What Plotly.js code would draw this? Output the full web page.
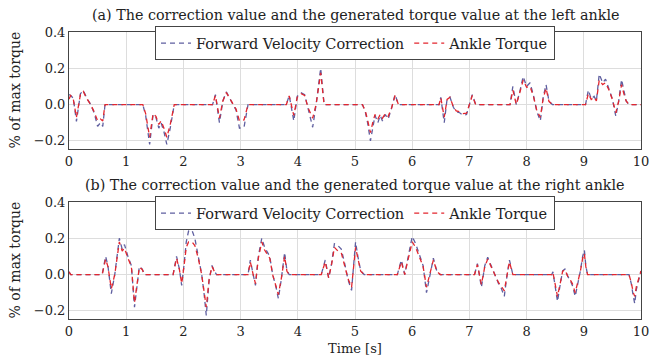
<!DOCTYPE html>
<html><head><meta charset="utf-8">
<script src="https://cdn.plot.ly/plotly-3.0.1.min.js"></script>
<style>html,body{margin:0;padding:0;background:#fff}#chart{width:649px;height:360px}</style>
</head><body><div id="chart"></div>
<script>
// Panel (a): left ankle
const timeLeft = [0,0.03,0.075,0.13,0.2,0.25,0.31,0.37,0.44,0.5,0.55,0.59,0.63,1.29,1.34,1.41,1.47,1.52,1.57,1.61,1.66,1.71,1.77,1.84,2.51,2.56,2.63,2.69,2.75,2.81,2.87,2.92,2.98,3.06,3.13,3.80,3.85,3.93,3.99,4.06,4.12,4.18,4.26,4.32,4.40,4.46,5.13,5.18,5.22,5.27,5.31,5.35,5.40,5.44,5.48,5.53,5.58,5.64,5.70,5.76,6.47,6.50,6.56,6.61,6.66,6.72,6.77,6.83,6.89,6.95,7.0,7.05,7.11,7.71,7.76,7.82,7.88,7.94,8.0,8.06,8.12,8.18,8.24,8.29,8.34,8.39,8.45,9.03,9.08,9.13,9.18,9.22,9.27,9.33,9.38,9.44,9.50,9.56,9.61,9.66,9.70,9.74,9.79,10];
const corrLeft = [0.055,0.05,0.035,-0.093,0.06,0.078,0.035,0.005,-0.045,-0.12,-0.1,-0.12,0,0,-0.06,-0.22,-0.055,-0.07,-0.13,-0.1,-0.15,-0.22,-0.13,0,0,0.055,-0.1,0.02,0.07,0.035,0.0,-0.03,-0.13,-0.125,0,0,0.05,-0.09,0.045,0.065,0.055,-0.02,-0.125,0,0.2,0,0,-0.04,-0.1,-0.2,-0.12,-0.06,-0.1,-0.06,-0.09,-0.055,-0.08,-0.02,0.055,0,0,0.04,-0.1,0.03,0.042,-0.015,-0.04,-0.045,-0.06,-0.055,0,0.055,0,0,0.1,0.0,0.07,0.155,0.1,0.12,0.05,-0.04,-0.09,0.04,0.11,0.02,0,0,0.08,0.03,0.045,0.02,0.168,0.12,0.14,0.09,0.03,-0.065,0.02,0.138,0.07,0.02,0,0];
const torqueLeft = [0.03,0.05,0.03,-0.07,0.055,0.072,0.033,0.005,-0.04,-0.09,-0.08,-0.09,0,0,-0.05,-0.18,-0.05,-0.065,-0.11,-0.09,-0.13,-0.18,-0.11,0,0,0.05,-0.075,0.02,0.066,0.033,0.0,-0.025,-0.09,-0.085,0,0,0.048,-0.06,0.04,0.06,0.05,-0.018,-0.075,0,0.175,0,0,-0.035,-0.085,-0.155,-0.1,-0.055,-0.08,-0.055,-0.075,-0.05,-0.065,-0.018,0.05,0,0,0.038,-0.07,0.028,0.04,-0.013,-0.035,-0.04,-0.05,-0.048,0,0.05,0,0,0.08,0.0,0.065,0.135,0.095,0.1,0.045,-0.035,-0.07,0.035,0.09,0.018,0,0,0.06,0.028,0.04,0.02,0.135,0.11,0.12,0.08,0.028,-0.045,0.018,0.11,0.06,0.02,0,0];

// Panel (b): right ankle
const timeRight = [0,0.03,0.58,0.64,0.68,0.74,0.80,0.84,0.88,0.93,0.97,1.03,1.09,1.145,1.19,1.23,1.28,1.32,1.82,1.88,1.93,1.97,2.01,2.05,2.09,2.15,2.20,2.26,2.32,2.36,2.40,2.45,2.50,2.54,2.58,3.13,3.17,3.22,3.26,3.31,3.37,3.42,3.47,3.51,3.56,3.62,3.66,3.71,3.77,3.81,3.85,4.41,4.48,4.54,4.59,4.64,4.70,4.76,4.82,4.88,4.94,4.98,5.01,5.05,5.10,5.16,5.74,5.81,5.87,5.90,5.96,6.00,6.06,6.13,6.19,6.25,6.31,6.37,6.43,6.49,7.09,7.14,7.21,7.27,7.32,7.38,7.44,7.51,7.55,7.61,7.66,7.70,7.76,8.44,8.46,8.50,8.54,8.59,8.63,8.67,8.72,8.76,8.80,8.85,8.89,8.94,8.98,9.01,9.035,9.065,9.79,9.83,9.865,9.89,9.92,9.96,10];
const corrRight = [0.015,0,0,0.1,0.05,-0.105,0.0,0.1,0.2,0.14,0.165,0.1,0.05,-0.18,-0.06,0.045,0.03,0,0,0.1,0.03,-0.06,0.05,0.18,0.24,0.245,0.2,0.1,0.0,-0.1,-0.226,-0.03,0.05,0.02,0,0,0.08,0.0,-0.06,0.1,0.2,0.15,0.12,0.1,0.0,-0.07,-0.133,-0.03,0.122,0.02,0,0,0.08,-0.02,0.06,0.17,0.16,0.14,0.06,-0.03,-0.087,0.05,0.18,0.1,0.02,0,0,0.08,0.0,0.05,0.15,0.21,0.17,0.1,0.05,-0.1,0.0,0.09,0.02,0,0,0.06,-0.07,0.05,0.095,0.05,0.0,-0.05,-0.07,-0.12,0.0,0.08,0,0,0.015,-0.07,-0.148,-0.05,0.02,0.03,-0.01,-0.03,-0.06,-0.12,-0.06,0.02,0.1,0.135,0.05,0,0,-0.05,-0.12,-0.16,-0.08,-0.02,0.02];
const torqueRight = [0.015,0,0,0.085,0.045,-0.078,0.0,0.09,0.18,0.13,0.145,0.09,0.045,-0.155,-0.05,0.04,0.028,0,0,0.09,0.028,-0.05,0.045,0.15,0.18,0.18,0.16,0.09,0.0,-0.085,-0.18,-0.025,0.045,0.018,0,0,0.07,0.0,-0.05,0.09,0.18,0.135,0.11,0.09,0.0,-0.06,-0.11,-0.025,0.1,0.018,0,0,0.07,-0.018,0.055,0.15,0.13,0.12,0.055,-0.025,-0.07,0.045,0.15,0.09,0.018,0,0,0.07,0.0,0.045,0.13,0.18,0.15,0.09,0.045,-0.07,0.0,0.08,0.018,0,0,0.055,-0.055,0.045,0.085,0.045,0.0,-0.045,-0.06,-0.09,0.0,0.07,0,0,0.012,-0.06,-0.12,-0.045,0.018,0.027,-0.01,-0.027,-0.05,-0.1,-0.05,0.018,0.09,0.115,0.045,0,0,-0.045,-0.1,-0.12,-0.065,-0.018,0.02];

const seriesNames = ['Forward Velocity Correction', 'Ankle Torque'];
const panelTitles = ['(a) The correction value and the generated torque value at the left ankle',
                     '(b) The correction value and the generated torque value at the right ankle'];
const xTicks = [0,1,2,3,4,5,6,7,8,9,10];
const yTicks = [-0.2,0,0.2,0.4];

const BLUE = '#5f5fa0', RED = '#e3262e';
const FONT = 'DejaVu Serif';
const dash = '5px,4px';

function tr(x, y, name, color, xa, ya, lg) {
  return {x: x, y: y, name: name, type: 'scatter', mode: 'lines', xaxis: xa, yaxis: ya, legend: lg,
          line: {color: color, width: 1.3, dash: dash}};
}
const data = [
  tr(timeLeft, corrLeft, seriesNames[0], BLUE, 'x', 'y', 'legend'),
  tr(timeLeft, torqueLeft, seriesNames[1], RED, 'x', 'y', 'legend'),
  tr(timeRight, corrRight, seriesNames[0], BLUE, 'x2', 'y2', 'legend2'),
  tr(timeRight, torqueRight, seriesNames[1], RED, 'x2', 'y2', 'legend2')
];

const axBase = {showline: true, mirror: true, linecolor: '#444', linewidth: 1, showgrid: true,
  gridcolor: '#dddddd', gridwidth: 1, zeroline: false, ticks: '', ticklabeloverflow: 'allow',
  tickfont: {family: FONT, size: 13, color: '#222'}};
const xa = Object.assign({}, axBase, {range: [0, 10], tickvals: xTicks, ticktext: xTicks.map(String)});
const ya = Object.assign({}, axBase, {range: [-0.245, 0.4], tickvals: yTicks, tickformat: '.1f'});

const topD = [0.5923, 1], botD = [0, 0.4077];
const legendBase = {orientation: 'h', x: 0.5, xanchor: 'center', yanchor: 'top', bgcolor: '#fff',
  bordercolor: '#444', borderwidth: 1, font: {family: FONT, size: 14.5, color: '#222'},
  itemwidth: 30, tracegroupgap: 0};

const layout = {
  width: 649, height: 360, margin: {l: 69, r: 8, t: 32, b: 41},
  paper_bgcolor: '#fff', plot_bgcolor: '#fff', showlegend: true, font: {family: FONT},
  xaxis: Object.assign({}, xa, {anchor: 'y', domain: [0, 1]}),
  yaxis: Object.assign({}, ya, {anchor: 'x', domain: topD}),
  xaxis2: Object.assign({}, xa, {anchor: 'y2', domain: [0, 1],
     title: {text: 'Time [s]', font: {family: FONT, size: 13, color: '#222'}, standoff: 6}}),
  yaxis2: Object.assign({}, ya, {anchor: 'x2', domain: botD}),
  legend: Object.assign({}, legendBase, {y: 1.02}),
  legend2: Object.assign({}, legendBase, {y: 0.4077 + 0.02}),
  annotations: [
    {text: panelTitles[0], xref: 'paper', yref: 'paper', x: 0.5, y: 1, yshift: 17, showarrow: false,
     xanchor: 'center', yanchor: 'middle', font: {family: FONT, size: 14.3, color: '#222'}},
    {text: panelTitles[1], xref: 'paper', yref: 'paper', x: 0.5, y: 0.4077, yshift: 17, showarrow: false,
     xanchor: 'center', yanchor: 'middle', font: {family: FONT, size: 14.3, color: '#222'}},
    {text: '% of max torque', xref: 'paper', yref: 'paper', x: 0, xshift: -54, y: 0.796, showarrow: false,
     textangle: -90, xanchor: 'center', yanchor: 'middle', font: {family: FONT, size: 14, color: '#222'}},
    {text: '% of max torque', xref: 'paper', yref: 'paper', x: 0, xshift: -54, y: 0.204, showarrow: false,
     textangle: -90, xanchor: 'center', yanchor: 'middle', font: {family: FONT, size: 14, color: '#222'}}
  ]
};
Plotly.newPlot('chart', data, layout, {displayModeBar: false, staticPlot: true});
</script></body></html>
